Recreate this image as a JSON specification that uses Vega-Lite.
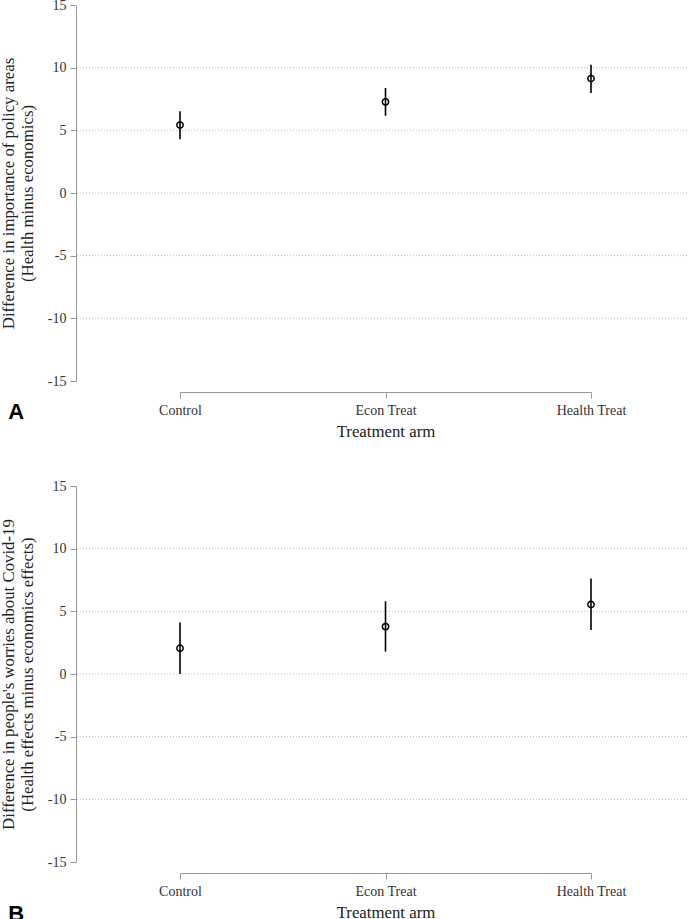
{
  "$schema": "https://vega.github.io/schema/vega-lite/v6.json",
  "background": "white",
  "padding": {"left": 0, "top": -2, "right": 0, "bottom": 0},
  "config": {
    "font": "Liberation Serif",
    "view": {"stroke": null},
    "concat": {"spacing": 39},
    "axis": {
      "domainColor": "#999999",
      "tickColor": "#999999",
      "tickSize": 6,
      "labelColor": "#333333",
      "labelFontSize": 14,
      "labelFont": "Liberation Serif",
      "titleFont": "Liberation Serif",
      "titleFontSize": 16.8,
      "titleFontWeight": "normal",
      "titleColor": "#222222"
    }
  },
  "datasets": {
    "a": [
      {"arm": "Control", "est": 5.42, "lo": 4.29, "hi": 6.53},
      {"arm": "Econ Treat", "est": 7.27, "lo": 6.16, "hi": 8.38},
      {"arm": "Health Treat", "est": 9.13, "lo": 7.98, "hi": 10.24}
    ],
    "b": [
      {"arm": "Control", "est": 2.06, "lo": 0.0, "hi": 4.1},
      {"arm": "Econ Treat", "est": 3.78, "lo": 1.79, "hi": 5.8},
      {"arm": "Health Treat", "est": 5.55, "lo": 3.52, "hi": 7.62}
    ],
    "grid": [{"g": -10}, {"g": -5}, {"g": 0}, {"g": 5}, {"g": 10}]
  },
  "vconcat": [
    {
      "width": 617,
      "height": 376,
      "title": {"text": "A", "orient": "bottom", "anchor": "start", "font": "Liberation Sans", "fontWeight": "bold", "fontSize": 22, "color": "black", "baseline": "alphabetic", "offset": -21, "dx": 8},
      "layer": [
        {
          "data": {"name": "grid"},
          "mark": {"type": "rule", "color": "#bbbbbb", "strokeDash": [1, 2], "strokeWidth": 1},
          "encoding": {
            "y": {
              "field": "g", "type": "quantitative",
              "scale": {"domain": [-15, 15], "nice": false, "zero": false},
              "axis": {
                "title": ["Difference in importance of policy areas", "(Health minus economics)"],
                "titleLineHeight": 19,
                "titlePadding": 11,
                "labelPadding": 4,
                "values": [-15, -10, -5, 0, 5, 10, 15],
                "labelExpr": "datum.value < 0 ? '-' + abs(datum.value) : '' + datum.value",
                "grid": false
              }
            }
          }
        },
        {
          "data": {"name": "a"},
          "mark": {"type": "rule", "color": "black", "strokeWidth": 1.6},
          "encoding": {
            "x": {
              "field": "arm", "type": "nominal", "sort": null,
              "scale": {"type": "point", "range": [104, 515], "padding": 0},
              "axis": {"title": "Treatment arm", "offset": 11, "labelAngle": 0, "labelPadding": 5, "titlePadding": 6, "grid": false}
            },
            "y": {"field": "lo", "type": "quantitative"},
            "y2": {"field": "hi"}
          }
        },
        {
          "data": {"name": "a"},
          "mark": {"type": "point", "shape": "circle", "filled": false, "stroke": "black", "strokeWidth": 1.5, "size": 40, "opacity": 1},
          "encoding": {
            "x": {"field": "arm", "type": "nominal", "sort": null},
            "y": {"field": "est", "type": "quantitative"}
          }
        }
      ]
    },
    {
      "width": 617,
      "height": 376,
      "title": {"text": "B", "orient": "bottom", "anchor": "start", "font": "Liberation Sans", "fontWeight": "bold", "fontSize": 22, "color": "black", "baseline": "alphabetic", "offset": 0, "dx": 8},
      "layer": [
        {
          "data": {"name": "grid"},
          "mark": {"type": "rule", "color": "#bbbbbb", "strokeDash": [1, 2], "strokeWidth": 1},
          "encoding": {
            "y": {
              "field": "g", "type": "quantitative",
              "scale": {"domain": [-15, 15], "nice": false, "zero": false},
              "axis": {
                "title": ["Difference in people's worries about Covid-19", "(Health effects minus economics effects)"],
                "titleLineHeight": 19,
                "titlePadding": 11,
                "labelPadding": 4,
                "values": [-15, -10, -5, 0, 5, 10, 15],
                "labelExpr": "datum.value < 0 ? '-' + abs(datum.value) : '' + datum.value",
                "grid": false
              }
            }
          }
        },
        {
          "data": {"name": "b"},
          "mark": {"type": "rule", "color": "black", "strokeWidth": 1.6},
          "encoding": {
            "x": {
              "field": "arm", "type": "nominal", "sort": null,
              "scale": {"type": "point", "range": [104, 515], "padding": 0},
              "axis": {"title": "Treatment arm", "offset": 11, "labelAngle": 0, "labelPadding": 5, "titlePadding": 6, "grid": false}
            },
            "y": {"field": "lo", "type": "quantitative"},
            "y2": {"field": "hi"}
          }
        },
        {
          "data": {"name": "b"},
          "mark": {"type": "point", "shape": "circle", "filled": false, "stroke": "black", "strokeWidth": 1.5, "size": 40, "opacity": 1},
          "encoding": {
            "x": {"field": "arm", "type": "nominal", "sort": null},
            "y": {"field": "est", "type": "quantitative"}
          }
        }
      ]
    }
  ]
}
